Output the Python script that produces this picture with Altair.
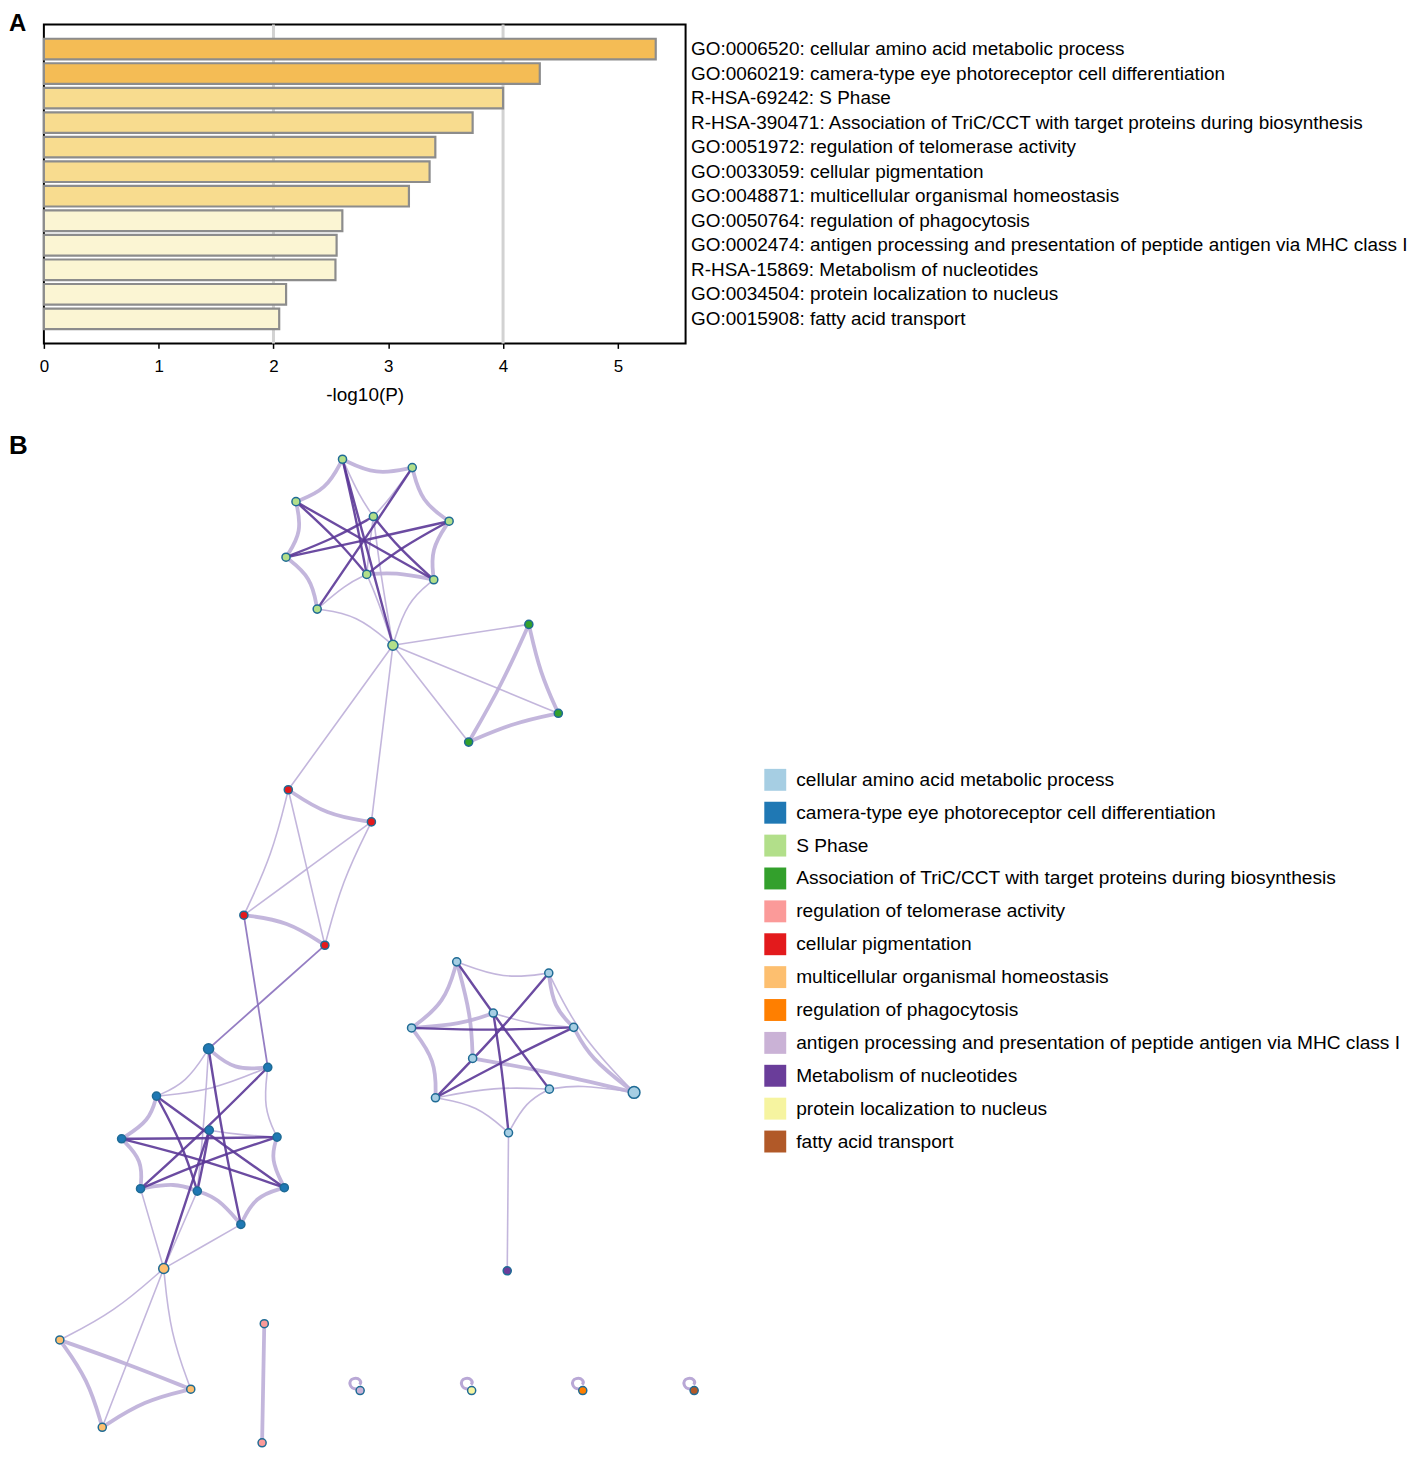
import altair as alt
import pandas as pd

# ---------------- Panel A data ----------------
bar_terms = [
    "GO:0006520: cellular amino acid metabolic process",
    "GO:0060219: camera-type eye photoreceptor cell differentiation",
    "R-HSA-69242: S Phase",
    "R-HSA-390471: Association of TriC/CCT with target proteins during biosynthesis",
    "GO:0051972: regulation of telomerase activity",
    "GO:0033059: cellular pigmentation",
    "GO:0048871: multicellular organismal homeostasis",
    "GO:0050764: regulation of phagocytosis",
    "GO:0002474: antigen processing and presentation of peptide antigen via MHC class I",
    "R-HSA-15869: Metabolism of nucleotides",
    "GO:0034504: protein localization to nucleus",
    "GO:0015908: fatty acid transport",
]
bar_values = [5.33, 4.32, 4.00, 3.735, 3.41, 3.36, 3.18, 2.60, 2.55, 2.54, 2.11, 2.05]
x_ticks = [0, 1, 2, 3, 4, 5]
grid_at = [2, 4]

# ---------------- Panel B data ----------------
categories = [
    "cellular amino acid metabolic process",
    "camera-type eye photoreceptor cell differentiation",
    "S Phase",
    "Association of TriC/CCT with target proteins during biosynthesis",
    "regulation of telomerase activity",
    "cellular pigmentation",
    "multicellular organismal homeostasis",
    "regulation of phagocytosis",
    "antigen processing and presentation of peptide antigen via MHC class I",
    "Metabolism of nucleotides",
    "protein localization to nucleus",
    "fatty acid transport",
]
cat_colors = ["#A6CEE3", "#1F78B4", "#B2DF8A", "#33A02C", "#FB9A99", "#E31A1C",
              "#FDBF6F", "#FF7F00", "#CAB2D6", "#6A3D9A", "#F6F4A0", "#B15928"]

node_x = [342.7, 412.7, 296, 373.7, 449.7, 286, 367, 434.3, 317.3, 393.3,
          529.7, 559.3, 469.3,
          288.3, 371.7, 243.7, 325,
          208.3, 267.7, 156, 209, 121, 277, 140, 197, 284.3, 240.7,
          163.3, 59, 190.4, 101.6,
          264.2, 262,
          457.3, 549.7, 494, 412, 574.7, 473.3, 436, 550.3, 635.3, 509.3,
          508,
          360.4, 472.3, 583.8, 695.6]
node_y = [458.3, 466.7, 501, 516, 520.7, 557, 574.3, 579.7, 609.3, 645.7,
          624.7, 714.3, 743.3,
          791.3, 823.7, 917.7, 948,
          1052.3, 1071, 1100, 1134.3, 1143, 1141.3, 1193.3, 1195.7, 1192.3, 1229.3,
          1273.7, 1345.7, 1395.3, 1433.7,
          1329.3, 1449.3,
          964.7, 976, 1016.3, 1031.3, 1030.7, 1062, 1101.7, 1093, 1096.3, 1137,
          1276,
          1396.7, 1396.7, 1396.7, 1396.7]
node_group = [2] * 10 + [3] * 3 + [5] * 4 + [1] * 10 + [6] * 4 + [4] * 2 + [0] * 10 + [9] + [8, 10, 7, 11]
node_size = [1] * 9 + [2] + [1] * 7 + [2] + [1] * 9 + [2] + [1] * 13 + [3] + [1] * 6

# edges: (source, target, kind) kind: thin / thick / mid / dark
edge_list = [
    # S Phase cluster
    (0, 1, "thick"), (0, 2, "thick"), (1, 4, "thick"), (2, 5, "thick"), (4, 7, "thick"),
    (5, 8, "thick"), (6, 7, "thick"), (0, 3, "thin"), (1, 3, "thin"), (3, 6, "thin"),
    (6, 8, "thin"), (8, 9, "thin"), (7, 9, "thin"), (6, 9, "thin"), (3, 9, "thin"),
    (0, 9, "dark"), (1, 8, "dark"), (2, 7, "dark"), (5, 4, "dark"), (0, 6, "dark"),
    (3, 7, "dark"), (3, 5, "dark"), (4, 6, "dark"), (2, 6, "dark"),
    # hub links
    (9, 10, "thin"), (9, 11, "thin"), (9, 12, "thin"), (9, 13, "thin"), (9, 14, "thin"),
    # TriC
    (10, 11, "thick"), (10, 12, "thick"), (11, 12, "thick"),
    # pigmentation
    (13, 14, "thick"), (13, 15, "thin"), (13, 16, "thin"), (14, 15, "thin"), (14, 16, "thin"),
    (15, 16, "thick"), (15, 18, "mid"), (16, 17, "mid"),
    # camera-type cluster
    (17, 18, "thick"), (17, 19, "thin"), (19, 21, "thick"), (18, 22, "thin"), (22, 25, "thick"),
    (21, 23, "thick"), (23, 24, "thick"), (25, 26, "thick"), (24, 26, "thick"), (19, 18, "thin"),
    (23, 27, "thin"), (26, 27, "thin"), (24, 27, "thin"), (20, 22, "thin"), (17, 24, "thin"),
    (17, 26, "dark"), (18, 23, "dark"), (19, 25, "dark"), (21, 22, "dark"), (23, 22, "dark"),
    (20, 27, "dark"), (19, 24, "dark"), (21, 25, "dark"), (20, 24, "dark"),
    # homeostasis
    (27, 28, "thin"), (27, 29, "thin"), (27, 30, "thin"),
    (28, 29, "thick"), (28, 30, "thick"), (29, 30, "thick"),
    # telomerase
    (31, 32, "thick"),
    # amino acid cluster
    (33, 36, "thick"), (34, 37, "thick"), (37, 41, "thick"), (36, 39, "thick"), (36, 35, "thick"),
    (38, 41, "thick"), (33, 38, "thick"),
    (33, 34, "thin"), (39, 42, "thin"), (42, 40, "thin"), (40, 41, "thin"), (35, 37, "thin"),
    (34, 41, "thin"), (39, 40, "thin"), (42, 43, "thin"),
    (33, 40, "dark"), (34, 39, "dark"), (36, 37, "dark"), (35, 42, "dark"), (39, 37, "dark"),
]
loop_nodes = [44, 45, 46, 47]

edge_kinds = ["thin", "thick", "mid", "dark"]
edge_colors = ["#bcaed8", "#bcaed8", "#8a70bd", "#5b3797"]
edge_widths = [1.6, 3.8, 1.8, 2.4]
bend = 0.15  # how far an edge inside a cluster bows toward that cluster's centre

# ---------------- Frames ----------------
bar_df = pd.DataFrame({"term": bar_terms, "value": bar_values})
grid_df = pd.DataFrame({"g": grid_at})

nodes_df = pd.DataFrame({
    "x": node_x, "y": node_y,
    "group": [categories[g] for g in node_group],
    "sz": node_size,
})
centre = {}
for g in set(node_group):
    idx = [i for i, gg in enumerate(node_group) if gg == g]
    centre[g] = (sum(node_x[i] for i in idx) / len(idx), sum(node_y[i] for i in idx) / len(idx))

order = {k: i for i, k in enumerate(["thick", "thin", "mid", "dark"])}
edges_sorted = sorted(edge_list, key=lambda e: order[e[2]])
rows = []
for eid, (a, b, k) in enumerate(edges_sorted):
    mx, my = (node_x[a] + node_x[b]) / 2, (node_y[a] + node_y[b]) / 2
    if node_group[a] == node_group[b]:
        cx, cy = centre[node_group[a]]
        mx, my = mx + bend * (cx - mx), my + bend * (cy - my)
    pts = [(node_x[a], node_y[a]), (mx, my), (node_x[b], node_y[b])]
    for s, (px, py) in enumerate(pts):
        rows.append({"eid": eid, "seq": s, "x": px, "y": py, "kind": k})
edges_df = pd.DataFrame(rows)
loops_df = pd.DataFrame({"x": [node_x[i] for i in loop_nodes], "y": [node_y[i] for i in loop_nodes]})

FONT = "Liberation Sans"

# ---------------- Panel A ----------------
xscale = alt.Scale(domain=[0, 5.59], nice=False, zero=True)
grid = alt.Chart(grid_df).mark_rule(color="#d2d2d2", strokeWidth=3).encode(
    x=alt.X("g:Q", scale=xscale)
)
bars = alt.Chart(bar_df).mark_bar(stroke="#8c8c8c", strokeWidth=2.2).encode(
    x=alt.X("value:Q", scale=xscale,
            axis=alt.Axis(values=x_ticks, format="d", grid=False, domain=False, title="-log10(P)",
                          tickSize=5, tickColor="black", tickWidth=1.5, labelFlush=False,
                          labelFontSize=17, labelPadding=10, labelColor="black",
                          titleFontSize=19, titleFontWeight="normal", titleColor="black",
                          titlePadding=11)),
    y=alt.Y("term:N", sort=bar_terms,
            scale=alt.Scale(paddingInner=0.16, paddingOuter=0.58),
            axis=alt.Axis(orient="right", title=None, ticks=False, tickSize=0, domain=False,
                          labelFontSize=19, labelPadding=5, labelLimit=0, labelColor="black")),
    fill=alt.Fill("value:Q",
                  scale=alt.Scale(type="threshold", domain=[3, 4.2],
                                  range=["#FBF5D3", "#F8DC8F", "#F4BC55"]),
                  legend=None),
)
panel_a = alt.layer(grid, bars).properties(
    width=644, height=320,
    view=alt.ViewBackground(stroke="black", strokeWidth=2),
    title=alt.TitleParams("A", anchor="start", frame="group", dx=-35, dy=33, fontSize=24,
                          fontWeight="bold", baseline="alphabetic", offset=1, color="black"),
)

# ---------------- Panel B ----------------
nx = alt.Scale(domain=[43, 743], nice=False, zero=False)
ny = alt.Scale(domain=[456, 1452], nice=False, zero=False, reverse=True)

edges = alt.Chart(edges_df).mark_line(interpolate="basis", strokeOpacity=0.9).encode(
    x=alt.X("x:Q", scale=nx, axis=None),
    y=alt.Y("y:Q", scale=ny, axis=None),
    detail="eid:N",
    order="seq:Q",
    stroke=alt.Stroke("kind:N", scale=alt.Scale(domain=edge_kinds, range=edge_colors), legend=None),
    strokeWidth=alt.StrokeWidth("kind:N", scale=alt.Scale(type="ordinal", domain=edge_kinds,
                                                          range=edge_widths), legend=None),
)
loop_path = "M -0.15 -0.15 C -0.95 -0.05 -1.05 -0.9 -0.55 -1.0 C -0.1 -1.1 0.2 -0.75 -0.05 -0.5"
loops = alt.Chart(loops_df).mark_point(shape=loop_path, size=576, filled=False,
                                        stroke="#b9a8d6", strokeWidth=3, opacity=1).encode(
    x=alt.X("x:Q", scale=nx, axis=None),
    y=alt.Y("y:Q", scale=ny, axis=None),
)
nodes = alt.Chart(nodes_df).mark_circle(opacity=1, stroke="#1f6b95", strokeWidth=1.5).encode(
    x=alt.X("x:Q", scale=nx, axis=None),
    y=alt.Y("y:Q", scale=ny, axis=None),
    fill=alt.Fill("group:N", sort=categories,
                  scale=alt.Scale(domain=categories, range=cat_colors),
                  legend=alt.Legend(orient="none", legendX=723, legendY=313, title=None,
                                    symbolType="square", symbolSize=484, symbolStrokeWidth=0,
                                    symbolOpacity=1, labelFontSize=19.2, labelOffset=10,
                                    rowPadding=11, padding=0, labelLimit=0,
                                    labelColor="black")),
    size=alt.Size("sz:Q", scale=alt.Scale(domain=[1, 3], range=[66, 140]), legend=None),
)
panel_b = alt.layer(edges, loops, nodes).properties(
    width=700, height=992,
    title=alt.TitleParams("B", anchor="start", frame="group", dx=-35, dy=30, fontSize=26,
                          fontWeight="bold", baseline="alphabetic", offset=2, color="black"),
)

chart = alt.vconcat(panel_a, panel_b, spacing=27).properties(padding=0).configure(
    font=FONT
).configure_view(stroke=None)

chart.save("out.html", embed_options={"renderer": "svg", "actions": False})
